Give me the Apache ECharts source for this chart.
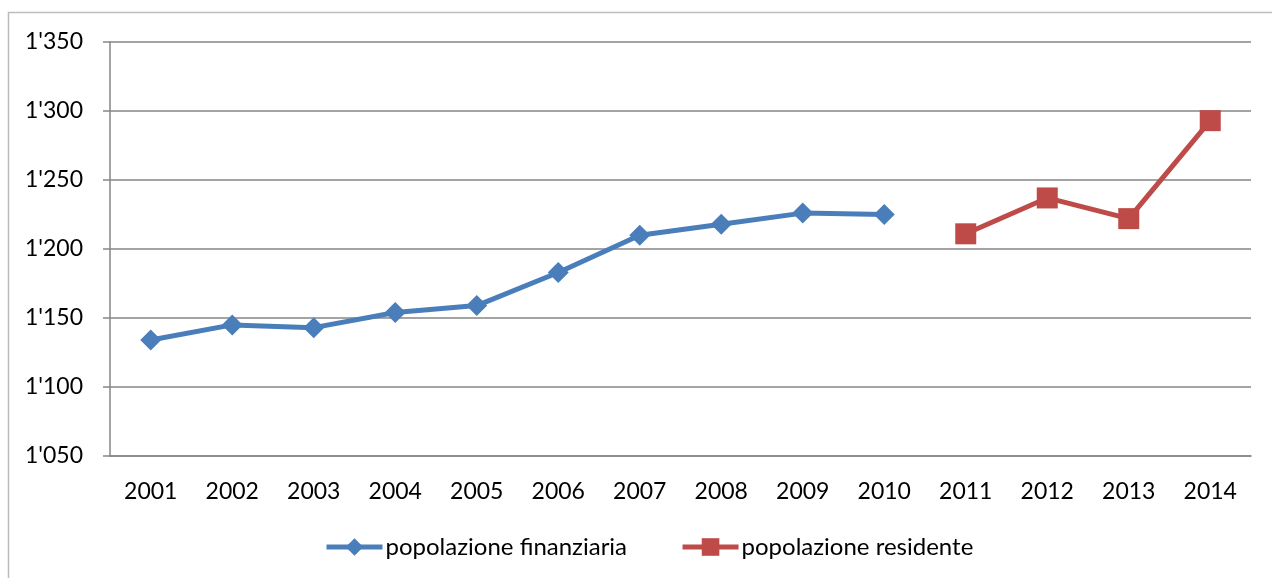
<!DOCTYPE html>
<html>
<head>
<meta charset="utf-8">
<script src="https://cdn.jsdelivr.net/npm/echarts@6/dist/echarts.min.js"></script>
<style>
  html, body { margin: 0; padding: 0; background: #fff; }
  #chart { width: 1272px; height: 578px; }
</style>
</head>
<body>
<div id="chart"></div>
<script>
const years = ["2001", "2002", "2003", "2004", "2005", "2006", "2007",
  "2008", "2009", "2010", "2011", "2012", "2013", "2014"];
const finanziaria = [1134, 1145, 1143, 1154, 1159, 1183, 1210, 1218, 1226, 1225,
  null, null, null, null];
const residente = [null, null, null, null, null, null, null, null, null, null,
  1211, 1237, 1222, 1293];

const AXIS_GRAY = "#868686";
const FONT = "Lato";

const chart = echarts.init(document.getElementById("chart"));
chart.setOption({
  backgroundColor: "#fff",
  animation: false,
  textStyle: { fontFamily: FONT },
  graphic: [{
    type: "rect",
    shape: { x: 8.5, y: 12.5, width: 1300, height: 620 },
    style: { fill: "none", stroke: "#bcbcbc", lineWidth: 1.5 },
    silent: true,
  }],
  grid: { left: 110, right: 21, top: 42, bottom: 122 },
  legend: {
    bottom: 14,
    left: 319,
    itemWidth: 56,
    itemHeight: 22,
    itemGap: 53,
    lineStyle: { width: 5 },
    textStyle: { fontSize: 24, color: "#000", fontFamily: FONT, padding: [0, 0, 0, -2] },
    data: ["popolazione finanziaria", "popolazione residente"],
  },
  xAxis: {
    type: "category",
    data: years,
    boundaryGap: true,
    axisLine: { lineStyle: { color: AXIS_GRAY, width: 1.5 } },
    axisTick: { alignWithLabel: true, length: 6, lineStyle: { color: AXIS_GRAY, width: 1.5 } },
    axisLabel: { color: "#000", fontSize: 23, margin: 24, fontFamily: FONT },
    splitLine: { show: false },
  },
  yAxis: {
    type: "value",
    min: 1050,
    max: 1350,
    interval: 50,
    axisLine: { show: true, lineStyle: { color: AXIS_GRAY, width: 1.5 } },
    axisTick: { show: true, length: 7, lineStyle: { color: AXIS_GRAY, width: 1.5 } },
    axisLabel: {
      color: "#000",
      fontSize: 23,
      margin: 27,
      fontFamily: FONT,
      formatter: (v) => String(v).replace(/\B(?=(\d{3})+(?!\d))/g, "'"),
    },
    splitLine: { lineStyle: { color: AXIS_GRAY, width: 1.5 } },
  },
  series: [
    {
      name: "popolazione finanziaria",
      type: "line",
      data: finanziaria,
      symbol: "diamond",
      symbolSize: 21,
      connectNulls: false,
      lineStyle: { color: "#4a7ebb", width: 5 },
      itemStyle: { color: "#4a7ebb" },
    },
    {
      name: "popolazione residente",
      type: "line",
      data: residente,
      symbol: "rect",
      symbolSize: 21,
      connectNulls: false,
      lineStyle: { color: "#be4b48", width: 5 },
      itemStyle: { color: "#be4b48" },
    },
  ],
});
</script>
</body>
</html>
